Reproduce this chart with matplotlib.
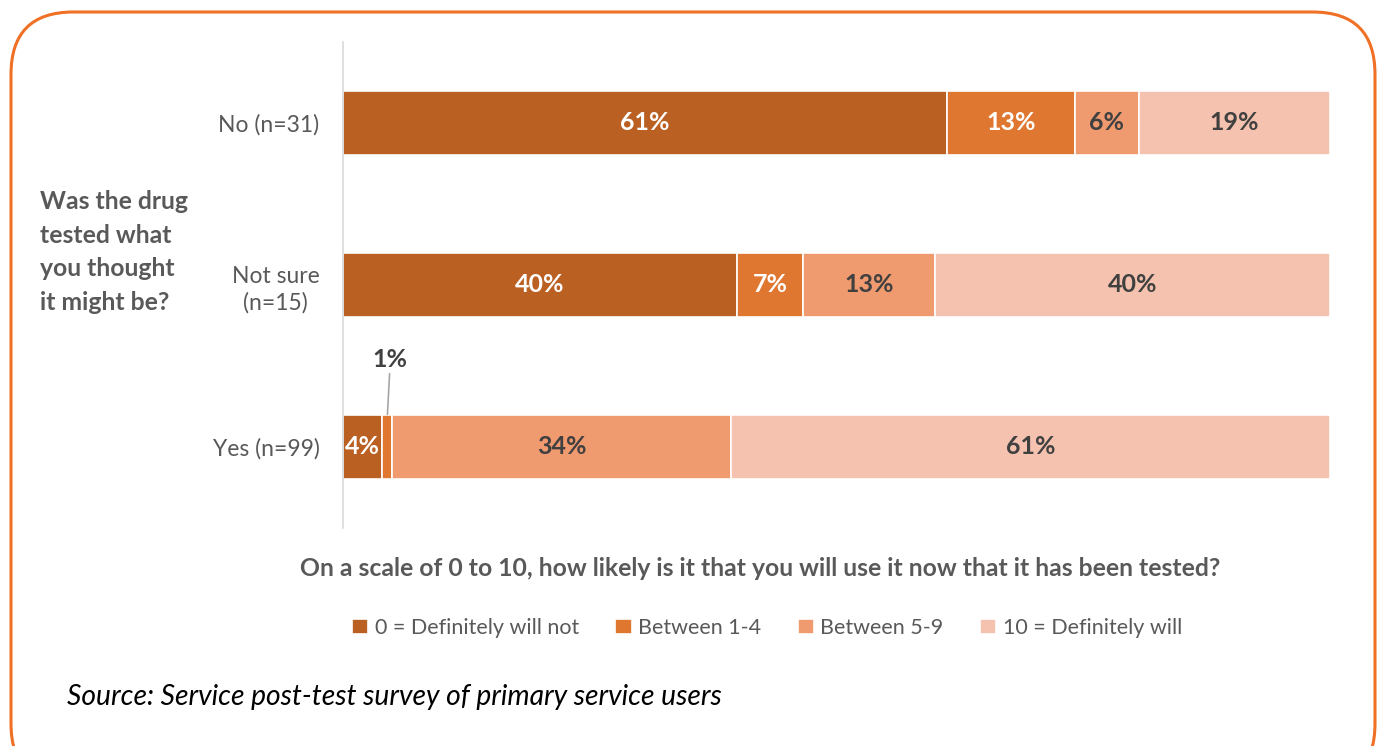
import matplotlib
matplotlib.use("Agg")
import matplotlib.pyplot as plt
from matplotlib.patches import FancyBboxPatch
import numpy as np

plt.rcParams['font.family'] = ['Lato', 'DejaVu Sans']

categories = ["Yes (n=99)", "Not sure\n(n=15)", "No (n=31)"]
series_names = ["0 = Definitely will not", "Between 1-4", "Between 5-9", "10 = Definitely will"]
values = {
    "0 = Definitely will not": [4.0, 39.9, 61.2],
    "Between 1-4": [1.0, 6.7, 13.0],
    "Between 5-9": [34.3, 13.4, 6.4],
    "10 = Definitely will": [60.7, 40.0, 19.4],
}
colors = ["#BA6022", "#DF7731", "#F09A70", "#F5C2B0"]
label_colors = ["white", "white", "#404040", "#404040"]

fig = plt.figure(figsize=(13.86, 7.46), dpi=100)
ax = fig.add_axes([343/1386, 1-528/746, (1330-343)/1386, 486/746])

y = np.arange(len(categories))
left = np.zeros(len(categories))
for i, name in enumerate(series_names):
    v = np.array(values[name])
    bars = ax.barh(y, v, left=left, height=0.4, color=colors[i], edgecolor="white",
                   linewidth=1.2, label=name)
    for j, (b, val) in enumerate(zip(bars, v)):
        cx = left[j] + val / 2
        if val >= 3:
            ax.text(cx, y[j], f"{val:.0f}%", ha="center", va="center",
                    color=label_colors[i], fontsize=18, fontweight="bold")
        else:
            ax.annotate(f"{val:.0f}%", xy=(cx, y[j] + 0.2), xytext=(cx + 0.3, y[j] + 0.47),
                        ha="center", va="bottom", color="#404040", fontsize=18,
                        fontweight="bold",
                        arrowprops=dict(arrowstyle="-", color="#A6A6A6", lw=1.2,
                                        shrinkA=0, shrinkB=0))
    left += v

ax.set_xlim(0, 100)
ax.set_ylim(-0.5, 2.5)
ax.set_yticks(y)
ax.set_yticklabels(categories, fontsize=16.5, color="#595959", ha="right",
                   multialignment="center", linespacing=1.3)
ax.tick_params(axis="y", length=0, pad=17)
ax.set_xticks([])
for s in ["top", "right", "bottom"]:
    ax.spines[s].set_visible(False)
ax.spines["left"].set_color("#D9D9D9")
ax.spines["left"].set_linewidth(1.2)

fig.text(40/1386, 1-252/746, "Was the drug\ntested what\nyou thought\nit might be?",
         ha="left", va="center", fontsize=17.8, fontweight="bold", color="#595959",
         linespacing=1.55)

fig.text(760/1386, 1-568/746,
         "On a scale of 0 to 10, how likely is it that you will use it now that it has been tested?",
         ha="center", va="center", fontsize=17.8, fontweight="bold", color="#595959")

handles, labels = ax.get_legend_handles_labels()
fig.legend(handles, labels, loc="center", bbox_to_anchor=(767/1386, 1-628/746), ncol=4,
           frameon=False, fontsize=15.5, handlelength=0.75, handleheight=0.75,
           handletextpad=0.3, columnspacing=1.7, labelcolor="#595959")

fig.text(67/1386, 1-697/746, "Source: Service post-test survey of primary service users",
         ha="left", va="center", fontsize=20.3, fontstyle="italic", color="black")

box = FancyBboxPatch((11/1386, -40/746), (1375-11)/1386, (734+40)/746,
                     boxstyle="round,pad=0,rounding_size=0.045",
                     transform=fig.transFigure, fill=False, edgecolor="#F07126",
                     linewidth=2.2, mutation_aspect=1386/746)
fig.patches.append(box)

fig.savefig("out.png", dpi=100)
